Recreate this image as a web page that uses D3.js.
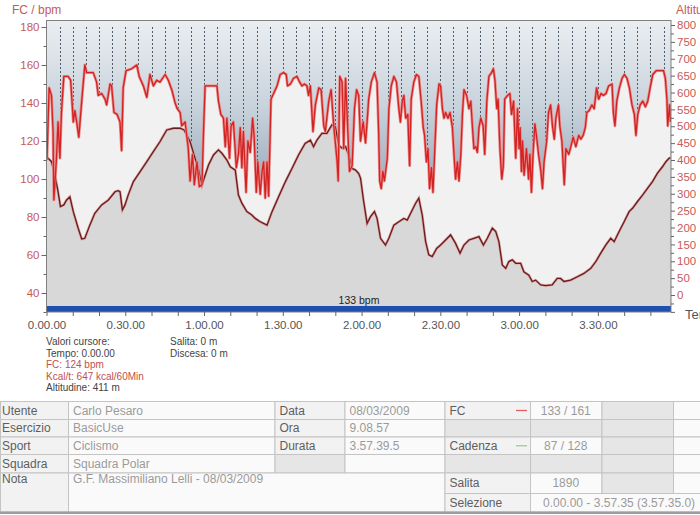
<!DOCTYPE html>
<html>
<head>
<meta charset="utf-8">
<script src="https://cdn.jsdelivr.net/npm/d3@7"></script>
<style>
  body { margin: 0; background: #fff; }
  svg { display: block; font-family: "Liberation Sans", Arial, sans-serif; }
</style>
</head>
<body>
<script>
// heart rate (minutes, bpm)
var hrTime = [
  0, 0.2, 1.0, 1.9, 2.5, 2.8, 3.8, 4.4, 5.1, 5.7,
  6.6, 8.2, 9.2, 9.8, 10.2, 10.8, 11.5, 12.3, 13.0, 13.6,
  14.6, 15.3, 17.8, 19.1, 19.7, 21.0, 22.3, 22.9, 24.2, 24.8,
  25.7, 26.9, 28.0, 28.6, 29.2, 30.3, 32.4, 34.4, 35.3, 36.9,
  38.2, 39.4, 40.7, 42.0, 43.2, 45.2, 46.4, 47.7, 49.0, 49.8,
  50.9, 51.5, 52.8, 54.0, 54.7, 55.6, 56.3, 57.3, 58.2, 59.2,
  59.8, 60.4, 64.9, 65.5, 66.4, 67.4, 68.1, 68.7, 69.7, 70.3,
  71.2, 72.3, 73.1, 73.8, 74.4, 75.0, 76.0, 76.7, 77.6, 78.5,
  79.1, 79.9, 80.5, 81.4, 82.1, 82.7, 83.3, 84.0, 84.6, 85.5,
  86.5, 87.8, 89.0, 90.3, 91.3, 91.8, 92.9, 94.1, 95.4, 96.4,
  97.3, 98.2, 99.2, 99.8, 100.5, 101.5, 102.4, 103.7, 104.6, 105.6,
  106.2, 107.5, 108.4, 109.4, 110.7, 111.1, 111.7, 112.6, 113.2, 113.9,
  114.5, 115.4, 116.4, 117.3, 118.1, 118.9, 119.6, 120.6, 121.5, 122.1,
  122.7, 123.7, 124.9, 125.9, 126.5, 126.9, 127.5, 128.1, 128.7, 129.8,
  130.4, 131.3, 132.3, 133.3, 134.2, 134.8, 135.5, 136.1, 136.8, 137.6,
  138.3, 138.9, 139.9, 140.9, 141.8, 142.7, 143.5, 144.0, 144.7, 145.3,
  145.9, 146.6, 147.2, 147.8, 148.6, 149.5, 150.1, 150.8, 151.4, 152.0,
  152.9, 153.7, 154.6, 155.2, 155.8, 156.5, 157.1, 157.8, 158.4, 159.0,
  160.0, 160.9, 161.6, 162.2, 162.8, 163.5, 164.1, 164.7, 165.4, 166.3,
  166.9, 167.7, 168.5, 169.5, 170.2, 170.8, 171.5, 172.0, 172.7, 173.4,
  174.0, 174.5, 175.6, 176.5, 177.1, 177.9, 178.7, 179.4, 180.0, 180.4,
  180.9, 181.3, 181.9, 182.8, 183.6, 184.1, 184.7, 185.3, 186.0, 186.6,
  187.4, 188.3, 188.9, 189.5, 190.5, 191.2, 192.0, 192.7, 193.4, 194.0,
  195.0, 195.5, 196.3, 197.2, 197.8, 198.9, 199.7, 200.6, 201.6, 202.7,
  203.5, 204.4, 205.2, 205.8, 206.7, 207.7, 208.6, 209.5, 210.3, 211.2,
  212.1, 213.1, 214.1, 215.4, 215.9, 216.5, 217.2, 218.2, 219.2, 220.1,
  221.1, 222.0, 223.0, 223.9, 224.5, 225.2, 226.1, 227.1, 228.1, 229.0,
  229.9, 230.9, 232.2, 233.7, 235.0, 235.7, 236.3, 236.6, 237.3, 237.66
];
var hrValue = [
  110, 111, 148, 144, 125, 89, 111, 130, 111, 135,
  154, 154, 152, 139, 130, 136, 130, 122, 134, 144,
  160, 156, 156, 151, 144, 145, 142, 139, 150, 149,
  135, 134, 130, 115, 148, 157, 158, 160, 154, 149,
  143, 155, 149, 152, 151, 155, 152, 147, 140, 137,
  135, 128, 130, 116, 99, 113, 97, 109, 96, 97,
  125, 149, 149, 141, 134, 132, 117, 132, 111, 128,
  130, 106, 113, 127, 106, 125, 93, 120, 114, 132,
  122, 93, 109, 92, 104, 109, 90, 109, 91, 142,
  145, 149, 155, 156, 155, 149, 150, 153, 154, 151,
  149, 150, 149, 144, 149, 125, 139, 148, 147, 128,
  125, 141, 147, 128, 109, 99, 154, 151, 116, 153,
  134, 104, 107, 137, 147, 144, 120, 130, 119, 130,
  142, 151, 156, 151, 125, 99, 95, 104, 99, 111,
  137, 149, 154, 151, 137, 130, 141, 144, 132, 134,
  107, 142, 151, 155, 154, 141, 127, 123, 109, 116,
  95, 106, 93, 113, 139, 150, 149, 137, 132, 135,
  132, 135, 127, 113, 100, 109, 99, 113, 134, 147,
  144, 137, 141, 128, 116, 117, 114, 127, 132, 128,
  113, 141, 154, 156, 158, 152, 137, 142, 116, 100,
  107, 142, 144, 145, 134, 141, 111, 137, 116, 127,
  104, 120, 102, 116, 100, 113, 93, 113, 129, 123,
  113, 104, 95, 109, 120, 135, 139, 128, 121, 132,
  139, 128, 120, 97, 116, 113, 117, 122, 117, 123,
  121, 123, 127, 135, 136, 139, 137, 148, 142, 145,
  144, 145, 149, 150, 135, 128, 141, 148, 153, 155,
  153, 148, 139, 134, 123, 134, 139, 141, 138, 141,
  148, 155, 157, 157, 157, 153, 142, 128, 139, 130
];

// altitude (minutes, m)
var altTime = [
  0, 1.9, 3.2, 4.4, 5.3, 6.6, 7.6, 8.9, 10.2, 12.1,
  13.4, 14.6, 16.5, 18.4, 21.0, 23.5, 26.1, 27.3, 28.0, 28.9,
  29.9, 31.1, 33.1, 35.6, 38.2, 40.7, 43.2, 45.8, 48.3, 50.9,
  52.4, 54.7, 56.6, 57.8, 59.2, 59.8, 61.7, 63.6, 65.5, 66.8,
  68.7, 70.0, 71.9, 73.1, 74.4, 76.3, 78.2, 79.5, 81.4, 84.0,
  85.9, 88.4, 91.0, 93.5, 96.0, 98.5, 100.5, 101.7, 103.0, 104.9,
  106.8, 108.7, 110.0, 111.3, 112.6, 113.9, 115.1, 116.4, 117.7, 118.9,
  119.6, 120.8, 122.1, 123.4, 124.9, 125.9, 127.2, 129.1, 130.4, 132.3,
  134.2, 136.1, 137.4, 139.3, 140.6, 141.8, 143.1, 144.4, 145.6, 146.9,
  148.6, 150.1, 152.0, 153.9, 155.8, 157.5, 159.0, 160.9, 162.8, 164.7,
  166.4, 167.9, 169.8, 171.1, 172.3, 173.6, 174.9, 176.1, 177.4, 178.7,
  180.6, 181.8, 183.7, 185.0, 186.3, 188.2, 190.1, 192.6, 194.5, 195.8,
  197.1, 199.6, 202.2, 204.7, 207.3, 209.2, 211.1, 213.0, 214.9, 216.2,
  218.1, 220.0, 221.9, 223.2, 225.1, 227.0, 228.9, 230.8, 232.7, 234.6,
  235.9, 237.1, 237.66
];
var altValue = [
  410, 395, 356, 306, 262, 267, 281, 291, 247, 197,
  166, 168, 207, 242, 267, 281, 306, 309, 306, 252,
  267, 296, 336, 365, 395, 425, 454, 489, 494, 494,
  489, 454, 405, 375, 325, 340, 385, 415, 430, 420,
  400, 380, 370, 296, 272, 247, 237, 227, 217, 207,
  247, 291, 336, 375, 415, 449, 459, 439, 459, 479,
  479, 504, 499, 444, 435, 440, 415, 375, 370, 360,
  346, 277, 212, 232, 247, 227, 168, 148, 168, 207,
  217, 227, 222, 252, 272, 287, 237, 158, 119, 114,
  138, 148, 163, 178, 153, 124, 148, 163, 168, 173,
  148, 168, 198, 188, 158, 89, 79, 99, 104, 94,
  94, 69, 59, 40, 44, 30, 28, 30, 49, 49,
  40, 44, 54, 64, 79, 99, 124, 148, 168, 158,
  188, 217, 247, 257, 277, 296, 316, 336, 361, 380,
  395, 405, 407
];

// ticks
var hrTicks = d3.range(30, 181, 10);
var altTicks = d3.range(-50, 801, 25);
var timeTicks = d3.range(0, 231, 10);
var timeTickLabels = ["0.00.00", "0.30.00", "1.00.00", "1.30.00", "2.00.00", "2.30.00", "3.00.00", "3.30.00"];
var gridMinutes = d3.range(5, 237, 5);
var avgHr = "133 bpm";

// cursor text
var cursorLeft = [
  ["Valori cursore:", "#444"],
  ["Tempo: 0.00.00", "#444"],
  ["FC: 124 bpm", "#c0504d"],
  ["Kcal/t: 647 kcal/60Min", "#c0504d"],
  ["Altitudine: 411 m", "#444"]
];
var cursorRight = ["Salita: 0 m", "Discesa: 0 m"];

// summary table
var tableCols = [0, 68, 274.5, 344.5, 444.5, 530, 601.5, 673, 700];
var tableRows = [401, 419, 436.5, 454, 472.5, 493, 511.5];
// [col start, col end, row start, row end, kind, text, align]
var tableCells = [
  [0, 1, 0, 1, "label", "Utente"], [1, 2, 0, 1, "value", "Carlo Pesaro"],
  [2, 3, 0, 1, "label", "Data"], [3, 4, 0, 1, "value", "08/03/2009"],
  [4, 5, 0, 1, "label", "FC"], [5, 6, 0, 1, "value", "133 / 161", "middle"],
  [6, 7, 0, 1, "shade", ""], [7, 8, 0, 1, "value", ""],
  [0, 1, 1, 2, "label", "Esercizio"], [1, 2, 1, 2, "value", "BasicUse"],
  [2, 3, 1, 2, "label", "Ora"], [3, 4, 1, 2, "value", "9.08.57"],
  [4, 5, 1, 2, "shade", ""], [5, 6, 1, 2, "shade", ""],
  [6, 7, 1, 2, "shade", ""], [7, 8, 1, 2, "value", ""],
  [0, 1, 2, 3, "label", "Sport"], [1, 2, 2, 3, "value", "Ciclismo"],
  [2, 3, 2, 3, "label", "Durata"], [3, 4, 2, 3, "value", "3.57.39.5"],
  [4, 5, 2, 3, "label", "Cadenza"], [5, 6, 2, 3, "value", "87 / 128", "middle"],
  [6, 7, 2, 3, "shade", ""], [7, 8, 2, 3, "value", ""],
  [0, 1, 3, 4, "label", "Squadra"], [1, 2, 3, 4, "value", "Squadra Polar"],
  [2, 3, 3, 4, "shade", ""], [3, 4, 3, 4, "value", ""],
  [4, 5, 3, 4, "shade", ""], [5, 6, 3, 4, "shade", ""],
  [6, 7, 3, 4, "shade", ""], [7, 8, 3, 4, "value", ""],
  [0, 1, 4, 6, "label", "Nota", "top"], [1, 4, 4, 6, "value", "G.F. Massimiliano Lelli - 08/03/2009", "top"],
  [4, 5, 4, 5, "label", "Salita"], [5, 6, 4, 5, "value", "1890", "middle"],
  [6, 7, 4, 5, "shade", ""], [7, 8, 4, 5, "value", ""],
  [4, 5, 5, 6, "label", "Selezione"], [5, 8, 5, 6, "value", "0.00.00 - 3.57.35 (3.57.35.0)"]
];
var legendMarks = [[0, "#e06060"], [2, "#9ccc8c"]];

// plot box
var plot_left = 46.5, plot_right = 671, plot_top = 20, plot_bottom = 312, bar_top = 306;

var svg = d3.select("body")
            .append('svg')
            .attr('width', 700)
            .attr('height', 515);

var x = d3.scaleLinear().domain([0, 237.66]).range([plot_left, 670.5]);
var y_hr = d3.scaleLinear().domain([30, 180]).range([312, 27]);
var y_alt = d3.scaleLinear().domain([0, 800]).range([295, 25]);

var defs = svg.append('defs');
var grad = defs.append('linearGradient')
    .attr('id', 'bg')
    .attr('gradientUnits', 'userSpaceOnUse')
    .attr('x1', 0).attr('y1', plot_top).attr('x2', 0).attr('y2', bar_top);
grad.append('stop').attr('offset', '0').attr('stop-color', '#eaeef2');
grad.append('stop').attr('offset', '0.3').attr('stop-color', '#c9d3dc');
grad.append('stop').attr('offset', '0.6').attr('stop-color', '#97aabb');
grad.append('stop').attr('offset', '1').attr('stop-color', '#7a90a5');
defs.append('clipPath').attr('id', 'clip')
    .append('rect')
    .attr('x', plot_left).attr('y', plot_top)
    .attr('width', plot_right - plot_left).attr('height', bar_top - plot_top);

svg.append('rect')
    .attr('x', plot_left).attr('y', plot_top)
    .attr('width', plot_right - plot_left).attr('height', bar_top - plot_top)
    .attr('fill', 'url(#bg)');

var plot = svg.append('g').attr('clip-path', 'url(#clip)');

// dotted guides every 5 minutes
plot.selectAll('line.guide')
    .data(gridMinutes)
    .enter()
    .append('line')
    .attr('class', 'guide')
    .attr('x1', function(d){ return Math.round(x(d)) + 0.5; })
    .attr('x2', function(d){ return Math.round(x(d)) + 0.5; })
    .attr('y1', 27).attr('y2', bar_top)
    .attr('stroke', '#4f5d6b')
    .attr('stroke-width', 1)
    .attr('stroke-dasharray', '2,2');

var hr_idx = d3.range(hrTime.length);
var alt_idx = d3.range(altTime.length);

var hr_area = d3.area()
    .x(function(i){ return x(hrTime[i]); })
    .y0(bar_top)
    .y1(function(i){ return y_hr(hrValue[i]); });
var hr_line = d3.line()
    .x(function(i){ return x(hrTime[i]); })
    .y(function(i){ return y_hr(hrValue[i]); });
var alt_area = d3.area()
    .x(function(i){ return x(altTime[i]); })
    .y0(bar_top)
    .y1(function(i){ return y_alt(altValue[i]); });
var alt_line = d3.line()
    .x(function(i){ return x(altTime[i]); })
    .y(function(i){ return y_alt(altValue[i]); });

plot.append('path').datum(hr_idx).attr('d', hr_area).attr('fill', '#f1f1f1');
plot.append('path').datum(alt_idx).attr('d', alt_area).attr('fill', '#d8d8d8');
plot.append('path').datum(alt_idx).attr('d', alt_line)
    .attr('fill', 'none').attr('stroke', '#d9a0a0').attr('stroke-width', 2.6);
plot.append('path').datum(alt_idx).attr('d', alt_line)
    .attr('fill', 'none').attr('stroke', '#6a1c1c').attr('stroke-width', 1.3);
plot.append('path').datum(hr_idx).attr('d', hr_line)
    .attr('fill', 'none').attr('stroke', '#ec8a8a').attr('stroke-width', 2.8)
    .attr('stroke-linejoin', 'round');
plot.append('path').datum(hr_idx).attr('d', hr_line)
    .attr('fill', 'none').attr('stroke', '#d22222').attr('stroke-width', 1.3)
    .attr('stroke-linejoin', 'round');

// blue bar + average
svg.append('rect')
    .attr('x', plot_left).attr('y', bar_top)
    .attr('width', plot_right - plot_left).attr('height', plot_bottom - bar_top)
    .attr('fill', '#1f4fb0');
svg.append('text')
    .attr('x', 359).attr('y', 303.5)
    .attr('text-anchor', 'middle')
    .attr('font-size', 10.5)
    .attr('fill', '#222')
    .text(avgHr);

// frame
svg.append('rect')
    .attr('x', plot_left).attr('y', plot_top + 0.5)
    .attr('width', plot_right - plot_left).attr('height', plot_bottom - plot_top - 0.5)
    .attr('fill', 'none').attr('stroke', '#808080').attr('stroke-width', 1);

// left axis
var hr_axis = d3.axisLeft(y_hr)
    .tickValues(hrTicks)
    .tickSize(5)
    .tickPadding(2)
    .tickFormat(function(d){ return (d % 20 === 0 && d >= 40) ? d : ""; });
var g_hr = svg.append('g').attr('transform', 'translate(' + plot_left + ',0)').call(hr_axis);
g_hr.select('.domain').remove();
g_hr.selectAll('.tick line').attr('stroke', '#666')
    .attr('x2', function(d){ return d % 20 === 0 ? -5 : -3; });
g_hr.selectAll('.tick text').attr('fill', '#c65a5a').attr('font-size', 11.5)
    .attr('font-family', '"Liberation Sans", Arial, sans-serif');

// right axis
var alt_axis = d3.axisRight(y_alt)
    .tickValues(altTicks)
    .tickSize(4)
    .tickPadding(2)
    .tickFormat(function(d){ return (d % 50 === 0 && d >= 0) ? d : ""; });
var g_alt = svg.append('g').attr('transform', 'translate(' + plot_right + ',0)').call(alt_axis);
g_alt.select('.domain').remove();
g_alt.selectAll('.tick line').attr('stroke', '#666')
    .attr('x2', function(d){ return d % 50 === 0 ? 4 : 3; });
g_alt.selectAll('.tick text').attr('fill', '#c65a5a').attr('font-size', 11.5)
    .attr('font-family', '"Liberation Sans", Arial, sans-serif');

// bottom axis
var time_axis = d3.axisBottom(x)
    .tickValues(timeTicks)
    .tickSize(4)
    .tickPadding(5)
    .tickFormat(function(d){ return d % 30 === 0 ? timeTickLabels[d / 30] : ""; });
var g_time = svg.append('g').attr('transform', 'translate(0,' + plot_bottom + ')').call(time_axis);
g_time.select('.domain').remove();
g_time.selectAll('.tick line').attr('stroke', '#666');
g_time.selectAll('.tick text').attr('fill', '#555').attr('font-size', 11.5)
    .attr('font-family', '"Liberation Sans", Arial, sans-serif');

// axis titles
svg.append('text').attr('x', 12).attr('y', 14).attr('font-size', 12).attr('fill', '#c55a5a').text('FC / bpm');
svg.append('text').attr('x', 676).attr('y', 14).attr('font-size', 12).attr('fill', '#c55a5a').text('Altitudine / m');
svg.append('text').attr('x', 685).attr('y', 319).attr('font-size', 13).attr('fill', '#555').text('Tempo');

// cursor values
svg.selectAll('text.cursor')
    .data(cursorLeft)
    .enter()
    .append('text')
    .attr('class', 'cursor')
    .attr('x', 46)
    .attr('y', function(d, i){ return 345 + i * 11.6; })
    .attr('font-size', 10)
    .attr('fill', function(d){ return d[1]; })
    .text(function(d){ return d[0]; });
svg.selectAll('text.cursor2')
    .data(cursorRight)
    .enter()
    .append('text')
    .attr('class', 'cursor2')
    .attr('x', 170)
    .attr('y', function(d, i){ return 345 + i * 11.6; })
    .attr('font-size', 10)
    .attr('fill', '#444')
    .text(function(d){ return d; });

// table
var fills = { label: '#f2f2f2', value: '#fafafa', shade: '#e6e6e6' };
var table = svg.append('g');
table.append('rect')
    .attr('x', 0).attr('y', tableRows[0])
    .attr('width', 700).attr('height', tableRows[6] - tableRows[0])
    .attr('fill', '#fafafa');
table.selectAll('rect.cell')
    .data(tableCells)
    .enter()
    .append('rect')
    .attr('class', 'cell')
    .attr('x', function(d){ return tableCols[d[0]] + 0.5; })
    .attr('y', function(d){ return tableRows[d[2]] + 0.5; })
    .attr('width', function(d){ return tableCols[d[1]] - tableCols[d[0]]; })
    .attr('height', function(d){ return tableRows[d[3]] - tableRows[d[2]]; })
    .attr('fill', function(d){ return fills[d[4]]; })
    .attr('stroke', '#c4c4c4')
    .attr('stroke-width', 1);
table.selectAll('text.cell')
    .data(tableCells.filter(function(d){ return d[5] !== ""; }))
    .enter()
    .append('text')
    .attr('class', 'cell')
    .attr('x', function(d){
        if (d[6] === 'middle') return (tableCols[d[0]] + tableCols[d[1]]) / 2;
        return tableCols[d[0]] + (d[0] === 0 ? 2 : (d[0] === 5 ? 13 : 5));
    })
    .attr('y', function(d){
        if (d[6] === 'top') return tableRows[d[2]] + 10;
        return (tableRows[d[2]] + tableRows[d[3]]) / 2 + 4.5;
    })
    .attr('text-anchor', function(d){ return d[6] === 'middle' ? 'middle' : 'start'; })
    .attr('font-size', 12)
    .attr('fill', function(d){ return d[4] === 'label' ? '#5e5e5e' : '#9a9a9a'; })
    .text(function(d){ return d[5]; });
table.selectAll('line.mark')
    .data(legendMarks)
    .enter()
    .append('line')
    .attr('class', 'mark')
    .attr('x1', 516).attr('x2', 527)
    .attr('y1', function(d){ return (tableRows[d[0]] + tableRows[d[0] + 1]) / 2 + 0.5; })
    .attr('y2', function(d){ return (tableRows[d[0]] + tableRows[d[0] + 1]) / 2 + 0.5; })
    .attr('stroke', function(d){ return d[1]; })
    .attr('stroke-width', 1.3);
table.append('rect')
    .attr('x', 0).attr('y', 511.5)
    .attr('width', 700).attr('height', 2.5)
    .attr('fill', '#9c9c9c');
</script>
</body>
</html>
